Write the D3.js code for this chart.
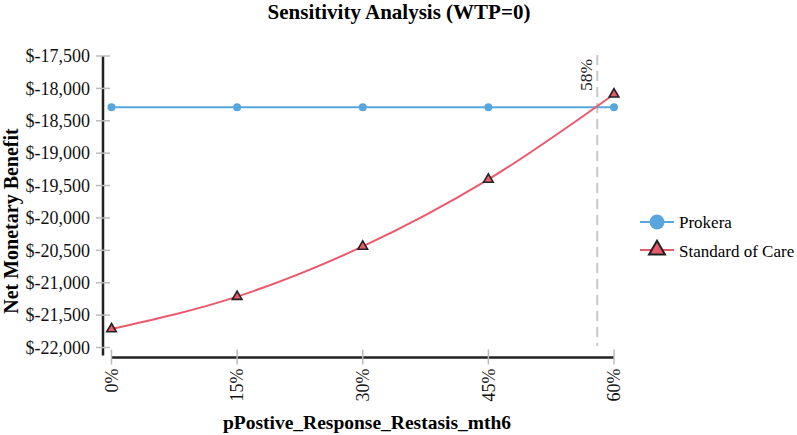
<!DOCTYPE html>
<html><head><meta charset="utf-8">
<script src="https://cdn.jsdelivr.net/npm/d3@7"></script>
<style>body{margin:0;background:#fff}svg{display:block}text{font-family:"Liberation Serif","Times New Roman",serif}</style>
</head><body>
<script>
const categories = [0, 0.15, 0.30, 0.45, 0.60];
const tickLabels = ["0%", "15%", "30%", "45%", "60%"];
const prokera = [-18290, -18290, -18290, -18290, -18290];
const standardOfCare = [-21715, -21215, -20440, -19405, -18090];
const yTicks = [-17500, -18000, -18500, -19000, -19500, -20000, -20500, -21000, -21500, -22000];
const threshold = 0.58;
const thresholdLabel = "58%";
const seriesNames = ["Prokera", "Standard of Care"];

const W = 797, H = 435;
const svg = d3.select("body").append("svg").attr("width", W).attr("height", H);
const x = d3.scaleLinear().domain([0, 0.6]).range([111.5, 614]);
const y = d3.scaleLinear().domain([-22000, -17500]).range([347.5, 56]);
const blue = "#58A6DD", red = "#EB5A6C";

svg.append("text").attr("x", 399).attr("y", 19).attr("text-anchor", "middle")
  .attr("font-size", 21).attr("font-weight", "bold").text("Sensitivity Analysis (WTP=0)");

// Y axis
const yAxis = svg.append("g").attr("transform", "translate(103,0)");
yAxis.append("line").attr("x1", 0).attr("x2", 0).attr("y1", y(-17500)).attr("y2", y(-22000) + 8)
  .attr("stroke", "#222").attr("stroke-width", 2.5);
yTicks.forEach(v => {
  yAxis.append("line").attr("x1", -7).attr("x2", 7).attr("y1", y(v)).attr("y2", y(v)).attr("stroke", "#bbb").attr("stroke-width", 1.5);
  yAxis.append("text").attr("x", -13).attr("y", y(v)).attr("dy", "0.35em").attr("text-anchor", "end")
    .attr("font-size", 18).attr("fill", "#111").text("$" + d3.format(",")(v).replace("−", "-"));
});
svg.append("text").attr("transform", `translate(18,221) rotate(-90)`).attr("text-anchor", "middle")
  .attr("font-size", 20).attr("font-weight", "bold").text("Net Monetary Benefit");

// X axis
const xAxis = svg.append("g").attr("transform", "translate(0,357.5)");
xAxis.append("line").attr("x1", x(0)).attr("x2", x(0.6)).attr("y1", 0).attr("y2", 0).attr("stroke", "#222").attr("stroke-width", 2.5);
categories.forEach((c, i) => {
  xAxis.append("line").attr("x1", x(c)).attr("x2", x(c)).attr("y1", -8).attr("y2", 7).attr("stroke", "#bbb").attr("stroke-width", 1.5);
  xAxis.append("text").attr("transform", `translate(${x(c)},11) rotate(-90)`).attr("dy", "0.35em").attr("text-anchor", "end")
    .attr("font-size", 18).attr("fill", "#111").text(tickLabels[i]);
});
svg.append("text").attr("x", 367).attr("y", 429).attr("text-anchor", "middle")
  .attr("font-size", 19.5).attr("font-weight", "bold").text("pPostive_Response_Restasis_mth6");

// Threshold
svg.append("line").attr("x1", x(threshold)).attr("x2", x(threshold)).attr("y1", 55).attr("y2", 346)
  .attr("stroke", "#c8c8c8").attr("stroke-width", 2).attr("stroke-dasharray", "10,6");
svg.append("text").attr("transform", `translate(${x(threshold) - 5},59) rotate(-90)`).attr("text-anchor", "end")
  .attr("font-size", 17.5).attr("fill", "#222").text(thresholdLabel);

const line = d3.line().x((d, i) => x(categories[i])).y(d => y(d)).curve(d3.curveMonotoneX);
svg.append("path").datum(prokera).attr("d", line).attr("fill", "none").attr("stroke", blue).attr("stroke-width", 2);
svg.append("path").datum(standardOfCare).attr("d", line).attr("fill", "none").attr("stroke", red).attr("stroke-width", 2);

svg.selectAll(".pc").data(prokera).enter().append("circle")
  .attr("cx", (d, i) => x(categories[i])).attr("cy", d => y(d)).attr("r", 4).attr("fill", blue);
const tri = d3.symbol().type(d3.symbolTriangle).size(40);
svg.selectAll(".st").data(standardOfCare).enter().append("path")
  .attr("d", tri).attr("transform", (d, i) => `translate(${x(categories[i])},${y(d)})`)
  .attr("fill", red).attr("stroke", "#222").attr("stroke-width", 1.6);

// Legend
const lg = svg.append("g");
lg.append("line").attr("x1", 640).attr("x2", 674).attr("y1", 222).attr("y2", 222).attr("stroke", blue).attr("stroke-width", 2);
lg.append("circle").attr("cx", 657).attr("cy", 222).attr("r", 7.5).attr("fill", blue);
lg.append("text").attr("x", 679).attr("y", 222).attr("dy", "0.35em").attr("font-size", 17).text(seriesNames[0]);
lg.append("line").attr("x1", 640).attr("x2", 674).attr("y1", 250).attr("y2", 250).attr("stroke", red).attr("stroke-width", 2);
lg.append("path").attr("d", d3.symbol().type(d3.symbolTriangle).size(110)).attr("transform", "translate(657,250)")
  .attr("fill", red).attr("stroke", "#222").attr("stroke-width", 2);
lg.append("text").attr("x", 679).attr("y", 251).attr("dy", "0.35em").attr("font-size", 17).text(seriesNames[1]);
</script>
</body></html>
